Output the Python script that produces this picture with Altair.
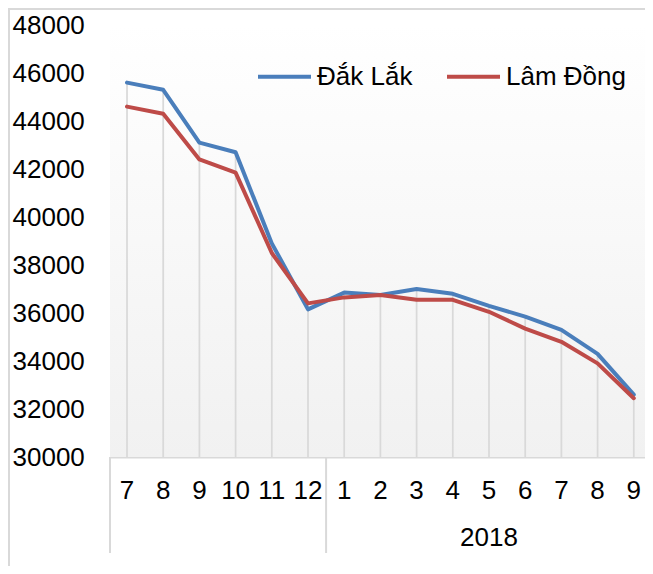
import altair as alt
import pandas as pd

# ---- data ----
months = ["7", "8", "9", "10", "11", "12", "1", "2", "3", "4", "5", "6", "7", "8", "9"]
year_groups = ["", "2018"]
year_group_center = [2.5, 10]
year_boundaries = [5.5]
series_names = ["Đắk Lắk", "Lâm Đồng"]
dak_lak = [45600, 45300, 43100, 42700, 38900, 36150, 36850, 36750, 37000, 36800, 36300, 35850, 35300, 34300, 32600]
lam_dong = [44600, 44300, 42400, 41850, 38500, 36400, 36650, 36750, 36550, 36550, 36050, 35350, 34800, 33900, 32450]
y_ticks = list(range(30000, 48001, 2000))

W, H = 535, 432
FONT = "Liberation Sans"
GRID = "#d9d9d9"

idx = list(range(len(months)))
wide = pd.DataFrame({"idx": idx, "month": months, "dak": dak_lak, "lam": lam_dong})
wide["top"] = wide[["dak", "lam"]].max(axis=1)
wide["base"] = 30000

long = pd.concat([
    pd.DataFrame({"idx": idx, "value": dak_lak, "series": series_names[0]}),
    pd.DataFrame({"idx": idx, "value": lam_dong, "series": series_names[1]}),
], ignore_index=True)

xscale = alt.Scale(domain=[-0.47, 14.31], nice=False, zero=False)
yscale = alt.Scale(domain=[30000, 48000], nice=False, zero=False)

xaxis = alt.Axis(values=idx, labels=False, title=None, grid=False,
                 ticks=False, tickSize=0, domain=True, domainColor=GRID, domainWidth=2)
yaxis = alt.Axis(values=y_ticks, format="d", title=None, grid=False, ticks=False,
                 tickSize=0, domain=False, labelAlign="left", labelPadding=98,
                 labelFontSize=26, labelFont=FONT, labelColor="#000000",
                 labelOverlap=False)

one = pd.DataFrame({"a": [0]})

bg = alt.Chart(one).mark_rect(
    color=alt.Gradient(gradient="linear",
                       stops=[alt.GradientStop(color="#ffffff", offset=0),
                              alt.GradientStop(color="#f1f1f1", offset=1)],
                       x1=0, x2=0, y1=0, y2=1)
).encode(x=alt.value(0), x2=alt.value(W), y=alt.value(0), y2=alt.value(H))

drops = alt.Chart(wide).mark_rule(color=GRID, strokeWidth=1.75).encode(
    x=alt.X("idx:Q", scale=xscale, axis=xaxis),
    y=alt.Y("top:Q", scale=yscale, axis=yaxis),
    y2="base:Q",
)

month_text = alt.Chart(wide).mark_text(fontSize=26, font=FONT, color="#000000",
                                       baseline="middle").encode(
    x=alt.X("idx:Q", scale=xscale), y=alt.value(H + 34), text="month:N")

lines = alt.Chart(long).mark_line(strokeWidth=4, strokeJoin="round", strokeCap="round").encode(
    x=alt.X("idx:Q", scale=xscale, axis=xaxis),
    y=alt.Y("value:Q", scale=yscale, axis=yaxis),
    color=alt.Color("series:N",
                    scale=alt.Scale(domain=series_names, range=["#4A7EBB", "#BE4B48"]),
                    legend=alt.Legend(orient="none", legendX=146, legendY=23,
                                      direction="horizontal", title=None,
                                      symbolType="stroke", symbolSize=2809,
                                      symbolStrokeWidth=4, labelFontSize=26,
                                      labelFont=FONT, labelColor="#000000",
                                      labelOffset=4, columnPadding=26)),
    detail="series:N",
)

groups = pd.DataFrame({"x": year_group_center, "label": year_groups})
group_text = alt.Chart(groups).mark_text(fontSize=26, font=FONT, color="#000000",
                                         baseline="middle").encode(
    x=alt.X("x:Q", scale=xscale), y=alt.value(H + 81), text="label:N")

seps = pd.DataFrame({"x": year_boundaries})
sep_rules = alt.Chart(seps).mark_rule(color=GRID, strokeWidth=2).encode(
    x=alt.X("x:Q", scale=xscale), y=alt.value(H), y2=alt.value(H + 96))
left_sep = alt.Chart(one).mark_rule(color=GRID, strokeWidth=2).encode(
    x=alt.value(0), y=alt.value(H), y2=alt.value(H + 96))

frame_left = alt.Chart(one).mark_rule(color=GRID, strokeWidth=2).encode(
    x=alt.value(-101), y=alt.value(-16), y2=alt.value(H + 109))
frame_top = alt.Chart(one).mark_rule(color=GRID, strokeWidth=2).encode(
    x=alt.value(-102), x2=alt.value(W + 10), y=alt.value(-16))

chart = alt.layer(bg, drops, lines, month_text, group_text, sep_rules, left_sep,
                  frame_left, frame_top).properties(
    width=W, height=H,
    autosize=alt.AutoSizeParams(type="none"),
    padding={"left": 102, "top": 17, "right": 0, "bottom": 109},
    background="#ffffff",
).configure_view(stroke=None).configure(font=FONT)

chart.save("out.html", embed_options={"renderer": "svg", "actions": False})
